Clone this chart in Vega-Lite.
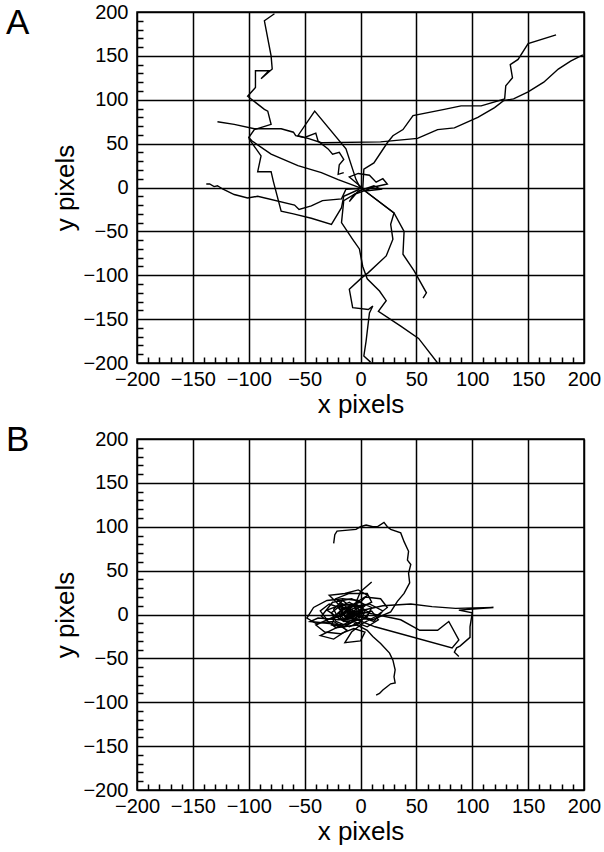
{
"$schema": "https://vega.github.io/schema/vega-lite/v6.json",
"padding": {"left": 5, "top": 1, "right": 0, "bottom": 0},
"config": {
  "font": "Liberation Sans",
  "view": {"stroke": "black", "strokeWidth": 1.5},
  "title": {"fontSize": 35, "fontWeight": "normal", "color": "black", "anchor": "start", "frame": "group", "offset": 0, "baseline": "alphabetic", "dx": -131}
},
"spacing": 4,
"datasets": {
"a": [
{"t":"A1","i":0,"x":-77,"y":198},{"t":"A1","i":1,"x":-86,"y":190},{"t":"A1","i":2,"x":-80,"y":150},{"t":"A1","i":3,"x":-79,"y":135},{"t":"A1","i":4,"x":-89,"y":124},{"t":"A1","i":5,"x":-82,"y":133},{"t":"A1","i":6,"x":-94,"y":133},{"t":"A1","i":7,"x":-94,"y":114},{"t":"A1","i":8,"x":-101,"y":104},{"t":"A1","i":9,"x":-86,"y":89},{"t":"A1","i":10,"x":-83,"y":87},{"t":"A1","i":11,"x":-80,"y":72},{"t":"A1","i":12,"x":-95,"y":66},{"t":"A1","i":13,"x":-100,"y":57},{"t":"A1","i":14,"x":-97,"y":53},{"t":"A1","i":15,"x":-80,"y":38},{"t":"A1","i":16,"x":-56,"y":25},{"t":"A1","i":17,"x":-35,"y":17},{"t":"A1","i":18,"x":-20,"y":9},{"t":"A1","i":19,"x":1,"y":-1},
{"t":"A2","i":0,"x":-128,"y":75},{"t":"A2","i":1,"x":-113,"y":72},{"t":"A2","i":2,"x":-95,"y":67},{"t":"A2","i":3,"x":-71,"y":67},{"t":"A2","i":4,"x":-60,"y":63},{"t":"A2","i":5,"x":-58,"y":59},{"t":"A2","i":6,"x":-47,"y":56},{"t":"A2","i":7,"x":-35,"y":51},{"t":"A2","i":8,"x":18,"y":52},{"t":"A2","i":9,"x":51,"y":56},{"t":"A2","i":10,"x":69,"y":66},{"t":"A2","i":11,"x":84,"y":68},{"t":"A2","i":12,"x":105,"y":80},{"t":"A2","i":13,"x":120,"y":91},{"t":"A2","i":14,"x":128,"y":99},{"t":"A2","i":15,"x":137,"y":101},{"t":"A2","i":16,"x":150,"y":109},{"t":"A2","i":17,"x":164,"y":120},{"t":"A2","i":18,"x":177,"y":135},{"t":"A2","i":19,"x":188,"y":144},{"t":"A2","i":20,"x":199,"y":151},
{"t":"A3","i":0,"x":2,"y":-2},{"t":"A3","i":1,"x":3,"y":21},{"t":"A3","i":2,"x":12,"y":28},{"t":"A3","i":3,"x":24,"y":51},{"t":"A3","i":4,"x":29,"y":59},{"t":"A3","i":5,"x":38,"y":66},{"t":"A3","i":6,"x":47,"y":82},{"t":"A3","i":7,"x":75,"y":89},{"t":"A3","i":8,"x":90,"y":93},{"t":"A3","i":9,"x":108,"y":93},{"t":"A3","i":10,"x":129,"y":101},{"t":"A3","i":11,"x":130,"y":116},{"t":"A3","i":12,"x":136,"y":125},{"t":"A3","i":13,"x":134,"y":140},{"t":"A3","i":14,"x":141,"y":146},{"t":"A3","i":15,"x":150,"y":164},{"t":"A3","i":16,"x":175,"y":174},
{"t":"A4","i":0,"x":-100,"y":56},{"t":"A4","i":1,"x":-89,"y":36},{"t":"A4","i":2,"x":-92,"y":18},{"t":"A4","i":3,"x":-80,"y":18},{"t":"A4","i":4,"x":-78,"y":7},{"t":"A4","i":5,"x":-71,"y":-27},{"t":"A4","i":6,"x":-60,"y":-30},{"t":"A4","i":7,"x":-44,"y":-35},{"t":"A4","i":8,"x":-26,"y":-42},{"t":"A4","i":9,"x":-17,"y":-23},{"t":"A4","i":10,"x":-15,"y":-10},{"t":"A4","i":11,"x":-1,"y":-2},
{"t":"A5","i":0,"x":-138,"y":4},{"t":"A5","i":1,"x":-135,"y":4},{"t":"A5","i":2,"x":-131,"y":1},{"t":"A5","i":3,"x":-128,"y":2},{"t":"A5","i":4,"x":-123,"y":-2},{"t":"A5","i":5,"x":-113,"y":-8},{"t":"A5","i":6,"x":-101,"y":-12},{"t":"A5","i":7,"x":-92,"y":-10},{"t":"A5","i":8,"x":-59,"y":-20},{"t":"A5","i":9,"x":-55,"y":-25},{"t":"A5","i":10,"x":-44,"y":-21},{"t":"A5","i":11,"x":-34,"y":-15},{"t":"A5","i":12,"x":-17,"y":-13},{"t":"A5","i":13,"x":-13,"y":-2},{"t":"A5","i":14,"x":1,"y":-1},
{"t":"A6","i":0,"x":2,"y":-2},{"t":"A6","i":1,"x":-15,"y":-15},{"t":"A6","i":2,"x":-17,"y":-40},{"t":"A6","i":3,"x":-7,"y":-59},{"t":"A6","i":4,"x":-1,"y":-70},{"t":"A6","i":5,"x":2,"y":-90},{"t":"A6","i":6,"x":6,"y":-104},{"t":"A6","i":7,"x":17,"y":-118},{"t":"A6","i":8,"x":23,"y":-129},{"t":"A6","i":9,"x":16,"y":-141},{"t":"A6","i":10,"x":36,"y":-158},{"t":"A6","i":11,"x":52,"y":-172},{"t":"A6","i":12,"x":69,"y":-200},
{"t":"A7","i":0,"x":2,"y":-2},{"t":"A7","i":1,"x":30,"y":-29},{"t":"A7","i":2,"x":27,"y":-42},{"t":"A7","i":3,"x":29,"y":-59},{"t":"A7","i":4,"x":23,"y":-78},{"t":"A7","i":5,"x":7,"y":-97},{"t":"A7","i":6,"x":1,"y":-103},{"t":"A7","i":7,"x":-10,"y":-116},{"t":"A7","i":8,"x":-7,"y":-137},{"t":"A7","i":9,"x":7,"y":-139},{"t":"A7","i":10,"x":11,"y":-135},{"t":"A7","i":11,"x":8,"y":-143},{"t":"A7","i":12,"x":5,"y":-175},{"t":"A7","i":13,"x":3,"y":-192},{"t":"A7","i":14,"x":9,"y":-199},
{"t":"A8","i":0,"x":2,"y":-2},{"t":"A8","i":1,"x":30,"y":-29},{"t":"A8","i":2,"x":39,"y":-50},{"t":"A8","i":3,"x":38,"y":-76},{"t":"A8","i":4,"x":48,"y":-95},{"t":"A8","i":5,"x":59,"y":-120},{"t":"A8","i":6,"x":56,"y":-126},
{"t":"A9","i":0,"x":0,"y":-1},{"t":"A9","i":1,"x":-4,"y":9},{"t":"A9","i":2,"x":-13,"y":44},{"t":"A9","i":3,"x":-41,"y":87},{"t":"A9","i":4,"x":-56,"y":59},{"t":"A9","i":5,"x":-50,"y":57},{"t":"A9","i":6,"x":-40,"y":62},{"t":"A9","i":7,"x":-38,"y":53},{"t":"A9","i":8,"x":-29,"y":44},{"t":"A9","i":9,"x":-25,"y":38},{"t":"A9","i":10,"x":-19,"y":40},{"t":"A9","i":11,"x":-15,"y":32},{"t":"A9","i":12,"x":-19,"y":26},{"t":"A9","i":13,"x":-20,"y":15},{"t":"A9","i":14,"x":-15,"y":17},
{"t":"A10","i":0,"x":3,"y":-2},{"t":"A10","i":1,"x":-10,"y":12},{"t":"A10","i":2,"x":-2,"y":16},{"t":"A10","i":3,"x":8,"y":14},{"t":"A10","i":4,"x":14,"y":6},{"t":"A10","i":5,"x":20,"y":10},{"t":"A10","i":6,"x":24,"y":4},{"t":"A10","i":7,"x":10,"y":0},{"t":"A10","i":8,"x":5,"y":-3},{"t":"A10","i":9,"x":-6,"y":-8},{"t":"A10","i":10,"x":-10,"y":-16},{"t":"A10","i":11,"x":-2,"y":-4},{"t":"A10","i":12,"x":12,"y":2},{"t":"A10","i":13,"x":18,"y":-2},{"t":"A10","i":14,"x":4,"y":-4}
],
"b": [
{"t":"B1","i":0,"x":-24,"y":81},{"t":"B1","i":1,"x":-23,"y":91},{"t":"B1","i":2,"x":-21,"y":95},{"t":"B1","i":3,"x":-4,"y":97},{"t":"B1","i":4,"x":0,"y":100},{"t":"B1","i":5,"x":5,"y":102},{"t":"B1","i":6,"x":11,"y":100},{"t":"B1","i":7,"x":15,"y":100},{"t":"B1","i":8,"x":21,"y":105},{"t":"B1","i":9,"x":24,"y":100},{"t":"B1","i":10,"x":27,"y":97},{"t":"B1","i":11,"x":36,"y":93},{"t":"B1","i":12,"x":39,"y":83},{"t":"B1","i":13,"x":43,"y":72},{"t":"B1","i":14,"x":42,"y":62},{"t":"B1","i":15,"x":45,"y":57},{"t":"B1","i":16,"x":43,"y":47},{"t":"B1","i":17,"x":44,"y":36},{"t":"B1","i":18,"x":39,"y":24},{"t":"B1","i":19,"x":33,"y":15},{"t":"B1","i":20,"x":27,"y":3},{"t":"B1","i":21,"x":11,"y":-6},{"t":"B1","i":22,"x":-5,"y":0},
{"t":"B2","i":0,"x":-8,"y":2},{"t":"B2","i":1,"x":20,"y":10},{"t":"B2","i":2,"x":45,"y":12},{"t":"B2","i":3,"x":64,"y":9},{"t":"B2","i":4,"x":85,"y":7},{"t":"B2","i":5,"x":119,"y":8},{"t":"B2","i":6,"x":88,"y":5},{"t":"B2","i":7,"x":100,"y":2},{"t":"B2","i":8,"x":98,"y":-14},{"t":"B2","i":9,"x":98,"y":-26},{"t":"B2","i":10,"x":89,"y":-36},{"t":"B2","i":11,"x":86,"y":-38},{"t":"B2","i":12,"x":84,"y":-43},{"t":"B2","i":13,"x":88,"y":-48},
{"t":"B3","i":0,"x":-12,"y":4},{"t":"B3","i":1,"x":2,"y":3},{"t":"B3","i":2,"x":36,"y":-6},{"t":"B3","i":3,"x":53,"y":-18},{"t":"B3","i":4,"x":69,"y":-18},{"t":"B3","i":5,"x":79,"y":-8},{"t":"B3","i":6,"x":88,"y":-29},{"t":"B3","i":7,"x":82,"y":-38},{"t":"B3","i":8,"x":13,"y":-14},{"t":"B3","i":9,"x":-7,"y":-4},
{"t":"B5","i":0,"x":-6,"y":-10},{"t":"B5","i":1,"x":6,"y":-18},{"t":"B5","i":2,"x":11,"y":-25},{"t":"B5","i":3,"x":18,"y":-33},{"t":"B5","i":4,"x":26,"y":-44},{"t":"B5","i":5,"x":29,"y":-52},{"t":"B5","i":6,"x":31,"y":-63},{"t":"B5","i":7,"x":30,"y":-71},{"t":"B5","i":8,"x":31,"y":-78},{"t":"B5","i":9,"x":27,"y":-79},{"t":"B5","i":10,"x":24,"y":-82},{"t":"B5","i":11,"x":20,"y":-86},{"t":"B5","i":12,"x":17,"y":-90},{"t":"B5","i":13,"x":14,"y":-92},
{"t":"B6","i":0,"x":-5,"y":2},{"t":"B6","i":1,"x":-20,"y":10},{"t":"B6","i":2,"x":-30,"y":5},{"t":"B6","i":3,"x":-15,"y":-8},{"t":"B6","i":4,"x":5,"y":-5},{"t":"B6","i":5,"x":10,"y":8},{"t":"B6","i":6,"x":-8,"y":18},{"t":"B6","i":7,"x":-25,"y":14},{"t":"B6","i":8,"x":-35,"y":-2},{"t":"B6","i":9,"x":-22,"y":-15},{"t":"B6","i":10,"x":-3,"y":-12},{"t":"B6","i":11,"x":8,"y":2},{"t":"B6","i":12,"x":-4,"y":12},{"t":"B6","i":13,"x":-18,"y":6},{"t":"B6","i":14,"x":-12,"y":-4},{"t":"B6","i":15,"x":2,"y":4},{"t":"B6","i":16,"x":-6,"y":-6},{"t":"B6","i":17,"x":-16,"y":0},{"t":"B6","i":18,"x":-10,"y":10},{"t":"B6","i":19,"x":0,"y":14},{"t":"B6","i":20,"x":6,"y":22},{"t":"B6","i":21,"x":-2,"y":28},{"t":"B6","i":22,"x":-14,"y":24},{"t":"B6","i":23,"x":-28,"y":22},{"t":"B6","i":24,"x":-20,"y":12},{"t":"B6","i":25,"x":-10,"y":4},{"t":"B6","i":26,"x":-2,"y":-2},{"t":"B6","i":27,"x":12,"y":-8},{"t":"B6","i":28,"x":20,"y":4},{"t":"B6","i":29,"x":8,"y":12},{"t":"B6","i":30,"x":-12,"y":8},{"t":"B6","i":31,"x":-26,"y":-4},{"t":"B6","i":32,"x":-40,"y":-12},{"t":"B6","i":33,"x":-32,"y":-20},{"t":"B6","i":34,"x":-18,"y":-22},{"t":"B6","i":35,"x":-6,"y":-16},{"t":"B6","i":36,"x":4,"y":-20},{"t":"B6","i":37,"x":0,"y":-30},{"t":"B6","i":38,"x":-14,"y":-32},{"t":"B6","i":39,"x":-8,"y":-20},{"t":"B6","i":40,"x":2,"y":-10},{"t":"B6","i":41,"x":14,"y":-2},{"t":"B6","i":42,"x":24,"y":8},{"t":"B6","i":43,"x":18,"y":18},{"t":"B6","i":44,"x":4,"y":20},{"t":"B6","i":45,"x":-6,"y":12},{"t":"B6","i":46,"x":-14,"y":2},{"t":"B6","i":47,"x":-8,"y":-4},{"t":"B6","i":48,"x":-20,"y":-6},{"t":"B6","i":49,"x":-38,"y":-4},{"t":"B6","i":50,"x":-45,"y":-8},{"t":"B6","i":51,"x":-30,"y":-10},{"t":"B6","i":52,"x":-16,"y":-12},{"t":"B6","i":53,"x":-4,"y":-4},{"t":"B6","i":54,"x":-10,"y":6},{"t":"B6","i":55,"x":-22,"y":18},{"t":"B6","i":56,"x":-10,"y":24},{"t":"B6","i":57,"x":6,"y":24},{"t":"B6","i":58,"x":10,"y":14},{"t":"B6","i":59,"x":-4,"y":6},{"t":"B6","i":60,"x":-12,"y":-2},
{"t":"B7","i":0,"x":-14,"y":6},{"t":"B7","i":1,"x":-28,"y":12},{"t":"B7","i":2,"x":-36,"y":4},{"t":"B7","i":3,"x":-30,"y":-6},{"t":"B7","i":4,"x":-18,"y":-2},{"t":"B7","i":5,"x":-8,"y":8},{"t":"B7","i":6,"x":-16,"y":16},{"t":"B7","i":7,"x":-24,"y":6},{"t":"B7","i":8,"x":-20,"y":-4},{"t":"B7","i":9,"x":-10,"y":-10},{"t":"B7","i":10,"x":0,"y":-2},{"t":"B7","i":11,"x":-6,"y":10},{"t":"B7","i":12,"x":-18,"y":12},{"t":"B7","i":13,"x":-12,"y":2},{"t":"B7","i":14,"x":-4,"y":-6},{"t":"B7","i":15,"x":-14,"y":-14},{"t":"B7","i":16,"x":-26,"y":-12},{"t":"B7","i":17,"x":-22,"y":0},{"t":"B7","i":18,"x":-12,"y":4},{"t":"B7","i":19,"x":-6,"y":-2},{"t":"B7","i":20,"x":-16,"y":-6},{"t":"B7","i":21,"x":-8,"y":2},{"t":"B7","i":22,"x":-2,"y":8},{"t":"B7","i":23,"x":-10,"y":14},{"t":"B7","i":24,"x":-20,"y":8},{"t":"B7","i":25,"x":-14,"y":-2},{"t":"B7","i":26,"x":-4,"y":2},{"t":"B7","i":27,"x":4,"y":10},{"t":"B7","i":28,"x":-2,"y":16},{"t":"B7","i":29,"x":-16,"y":18},{"t":"B7","i":30,"x":-30,"y":16},{"t":"B7","i":31,"x":-42,"y":8},{"t":"B7","i":32,"x":-48,"y":-4},{"t":"B7","i":33,"x":-40,"y":-10},{"t":"B7","i":34,"x":-24,"y":-8},{"t":"B7","i":35,"x":-12,"y":-18},{"t":"B7","i":36,"x":-24,"y":-28},{"t":"B7","i":37,"x":-36,"y":-24},{"t":"B7","i":38,"x":-20,"y":-14},{"t":"B7","i":39,"x":-6,"y":-8},{"t":"B7","i":40,"x":6,"y":-14},{"t":"B7","i":41,"x":16,"y":-6},{"t":"B7","i":42,"x":10,"y":4},{"t":"B7","i":43,"x":-2,"y":0},
{"t":"B8","i":0,"x":-4,"y":14},{"t":"B8","i":1,"x":0,"y":26},{"t":"B8","i":2,"x":10,"y":37},
{"t":"B9","i":0,"x":-8,"y":0},{"t":"B9","i":1,"x":-14,"y":8},{"t":"B9","i":2,"x":-20,"y":2},{"t":"B9","i":3,"x":-14,"y":-6},{"t":"B9","i":4,"x":-4,"y":-4},{"t":"B9","i":5,"x":0,"y":4},{"t":"B9","i":6,"x":-6,"y":10},{"t":"B9","i":7,"x":-16,"y":6},{"t":"B9","i":8,"x":-18,"y":-4},{"t":"B9","i":9,"x":-10,"y":-10},{"t":"B9","i":10,"x":-2,"y":-6},{"t":"B9","i":11,"x":2,"y":2},{"t":"B9","i":12,"x":-4,"y":8},{"t":"B9","i":13,"x":-12,"y":4},{"t":"B9","i":14,"x":-10,"y":-4},{"t":"B9","i":15,"x":-4,"y":0},{"t":"B9","i":16,"x":-8,"y":6},{"t":"B9","i":17,"x":-16,"y":2},{"t":"B9","i":18,"x":-12,"y":-6},{"t":"B9","i":19,"x":-6,"y":-2},{"t":"B9","i":20,"x":-10,"y":4},{"t":"B9","i":21,"x":-2,"y":10},{"t":"B9","i":22,"x":4,"y":4},{"t":"B9","i":23,"x":0,"y":-8},{"t":"B9","i":24,"x":-10,"y":-14},{"t":"B9","i":25,"x":-22,"y":-8},{"t":"B9","i":26,"x":-26,"y":2},{"t":"B9","i":27,"x":-18,"y":10},{"t":"B9","i":28,"x":-8,"y":12},{"t":"B9","i":29,"x":2,"y":8},{"t":"B9","i":30,"x":-4,"y":-2}
]
},
"vconcat": [
{
  "title": {"text": "A", "dy": 43},
  "width": 447, "height": 351,
  "resolve": {"axis": {"x": "independent", "y": "independent"}},
  "layer": [
    {
      "data": {"name": "a"},
      "mark": {"type": "line", "color": "black", "strokeWidth": 1.4, "clip": true},
      "encoding": {
        "x": {"field": "x", "type": "quantitative", "scale": {"domain": [-200, 200], "nice": false, "zero": false},
              "axis": {"orient": "bottom", "values": [-200,-150,-100,-50,0,50,100,150,200], "grid": true, "gridColor": "black", "gridWidth": 1.5, "gridOpacity": 1, "ticks": false, "domain": false, "labelFontSize": 20, "labelColor": "black", "labelPadding": 6, "labelFlush": false, "labelOverlap": false, "title": "x pixels", "titleFontSize": 26, "titleFontWeight": "normal", "titleColor": "black", "titlePadding": 2}},
        "y": {"field": "y", "type": "quantitative", "scale": {"domain": [-200, 200], "nice": false, "zero": false},
              "axis": {"orient": "left", "values": [-200,-150,-100,-50,0,50,100,150,200], "grid": true, "gridColor": "black", "gridWidth": 1.5, "gridOpacity": 1, "ticks": false, "domain": false, "labelFontSize": 20, "labelColor": "black", "labelPadding": 9, "labelFlush": false, "labelOverlap": false, "title": "y pixels", "titleFontSize": 26, "titleFontWeight": "normal", "titleColor": "black", "titlePadding": 4}},
        "detail": {"field": "t"},
        "order": {"field": "i", "type": "quantitative"}
      }
    },
    {
      "data": {"values": [{"x": 0, "y": 0}]},
      "mark": {"type": "point", "opacity": 0},
      "encoding": {
        "x": {"field": "x", "type": "quantitative", "axis": {"orient": "bottom", "offset": -6, "values": [-190,-180,-170,-160,-140,-130,-120,-110,-90,-80,-70,-60,-40,-30,-20,-10,10,20,30,40,60,70,80,90,110,120,130,140,160,170,180,190], "grid": false, "labels": false, "domain": false, "ticks": true, "tickSize": 6, "tickColor": "black", "tickWidth": 1.5, "title": null}},
        "y": {"field": "y", "type": "quantitative", "axis": {"orient": "left", "offset": -6, "values": [-190,-180,-170,-160,-140,-130,-120,-110,-90,-80,-70,-60,-40,-30,-20,-10,10,20,30,40,60,70,80,90,110,120,130,140,160,170,180,190], "grid": false, "labels": false, "domain": false, "ticks": true, "tickSize": 6, "tickColor": "black", "tickWidth": 1.5, "title": null}}
      }
    }
  ]
},
{
  "title": {"text": "B", "dy": 33},
  "width": 447, "height": 351,
  "resolve": {"axis": {"x": "independent", "y": "independent"}},
  "layer": [
    {
      "data": {"name": "b"},
      "mark": {"type": "line", "color": "black", "strokeWidth": 1.4, "clip": true},
      "encoding": {
        "x": {"field": "x", "type": "quantitative", "scale": {"domain": [-200, 200], "nice": false, "zero": false},
              "axis": {"orient": "bottom", "values": [-200,-150,-100,-50,0,50,100,150,200], "grid": true, "gridColor": "black", "gridWidth": 1.5, "gridOpacity": 1, "ticks": false, "domain": false, "labelFontSize": 20, "labelColor": "black", "labelPadding": 6, "labelFlush": false, "labelOverlap": false, "title": "x pixels", "titleFontSize": 26, "titleFontWeight": "normal", "titleColor": "black", "titlePadding": 2}},
        "y": {"field": "y", "type": "quantitative", "scale": {"domain": [-200, 200], "nice": false, "zero": false},
              "axis": {"orient": "left", "values": [-200,-150,-100,-50,0,50,100,150,200], "grid": true, "gridColor": "black", "gridWidth": 1.5, "gridOpacity": 1, "ticks": false, "domain": false, "labelFontSize": 20, "labelColor": "black", "labelPadding": 9, "labelFlush": false, "labelOverlap": false, "title": "y pixels", "titleFontSize": 26, "titleFontWeight": "normal", "titleColor": "black", "titlePadding": 4}},
        "detail": {"field": "t"},
        "order": {"field": "i", "type": "quantitative"}
      }
    },
    {
      "data": {"values": [{"x": 0, "y": 0}]},
      "mark": {"type": "point", "opacity": 0},
      "encoding": {
        "x": {"field": "x", "type": "quantitative", "axis": {"orient": "bottom", "offset": -6, "values": [-190,-180,-170,-160,-140,-130,-120,-110,-90,-80,-70,-60,-40,-30,-20,-10,10,20,30,40,60,70,80,90,110,120,130,140,160,170,180,190], "grid": false, "labels": false, "domain": false, "ticks": true, "tickSize": 6, "tickColor": "black", "tickWidth": 1.5, "title": null}},
        "y": {"field": "y", "type": "quantitative", "axis": {"orient": "left", "offset": -6, "values": [-190,-180,-170,-160,-140,-130,-120,-110,-90,-80,-70,-60,-40,-30,-20,-10,10,20,30,40,60,70,80,90,110,120,130,140,160,170,180,190], "grid": false, "labels": false, "domain": false, "ticks": true, "tickSize": 6, "tickColor": "black", "tickWidth": 1.5, "title": null}}
      }
    }
  ]
}
]
}
